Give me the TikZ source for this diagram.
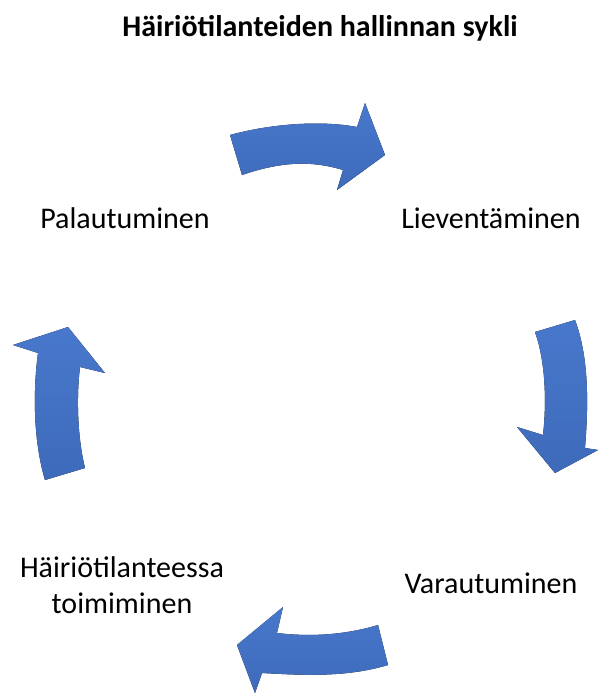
\documentclass[tikz,border=0pt]{standalone}
\usepackage{fontspec}
\setmainfont{Carlito}
\definecolor{arrowblue}{RGB}{72,120,204}
\definecolor{arrowdark}{RGB}{62,106,186}
\tikzset{
  bigarrow/.style={top color=arrowblue, bottom color=arrowdark, draw=none},
  lbl/.style={font=\fontsize{30}{36}\selectfont, inner sep=0pt, align=center},
}
\begin{document}
\begin{tikzpicture}[x=1pt,y=-1pt]
\useasboundingbox (0,0) rectangle (598,694);
\node[font=\bfseries\fontsize{30}{36}\selectfont, inner sep=0pt] (title) at (320,28) {Häiriötilanteiden hallinnan sykli};
\node[lbl] (pal) at (125,218) {Palautuminen};
\node[lbl] (lie) at (491,218) {Lieventäminen};
\node[lbl] (var) at (491,583) {Varautuminen};
\node[lbl] (hai) at (122,585) {Häiriötilanteessa\\toimiminen};
% top arrow
\fill[bigarrow] (230,135) .. controls (270,124) and (320,120) .. (357,127)
  -- (365,103) -- (385,155) -- (337,190) -- (343,170)
  .. controls (310,160) and (280,162) .. (242,175) -- cycle;
% right arrow
\fill[bigarrow] (575,320) .. controls (590,360) and (588,410) .. (585,448)
  -- (598,450) -- (555,473) -- (517,427) -- (543,435)
  .. controls (547,400) and (545,360) .. (535,332) -- cycle;
% bottom arrow
\fill[bigarrow] (388,665) .. controls (345,678) and (300,675) .. (262,673)
  -- (255,693) -- (237,645) -- (283,607) -- (277,633)
  .. controls (310,637) and (345,635) .. (378,625) -- cycle;
% left arrow
\fill[bigarrow] (45,480) .. controls (33,440) and (33,390) .. (38,353)
  -- (13,345) -- (68,327) -- (105,373) -- (80,367)
  .. controls (76,400) and (78,440) .. (85,468) -- cycle;
\end{tikzpicture}
\end{document}
